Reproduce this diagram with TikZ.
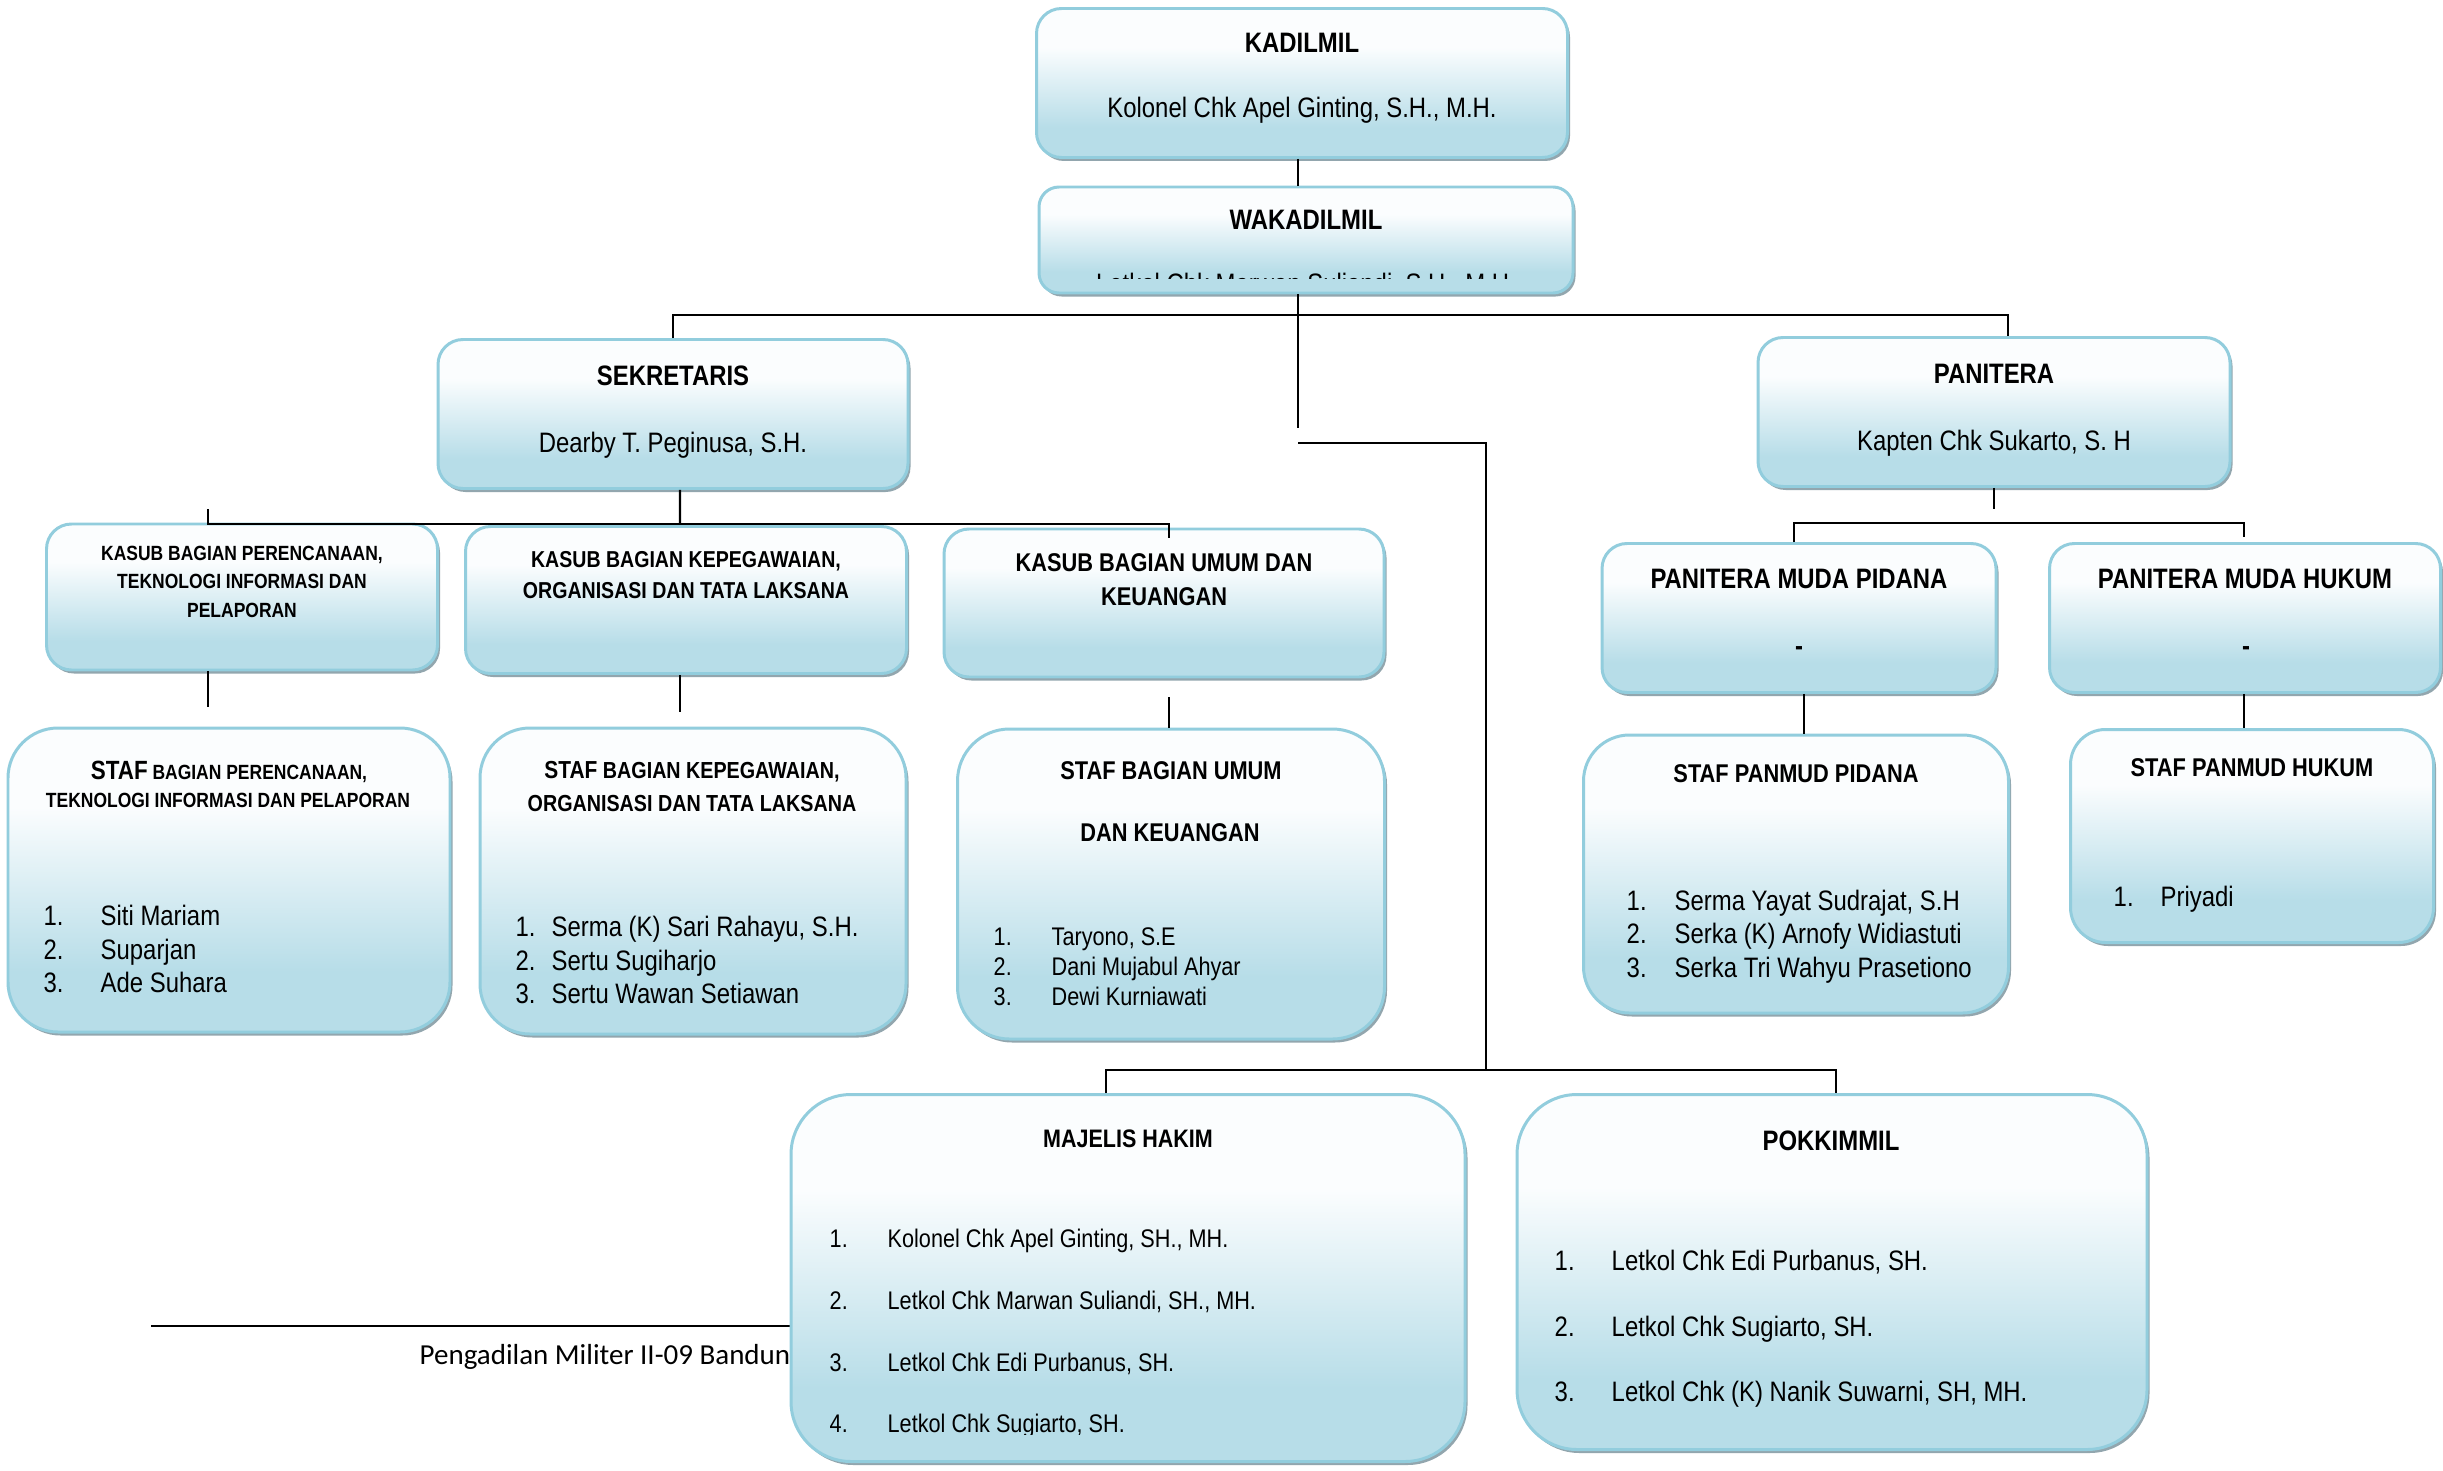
\documentclass[tikz,border=0pt]{standalone}
\usepackage{fontspec}
\setmainfont{Liberation Sans}[FakeStretch=0.85]
\newfontfamily\footfont{Carlito}
\usetikzlibrary{shadows}

\definecolor{unitblue}{RGB}{183,221,232}
\definecolor{unitwhite}{RGB}{251,253,254}
\definecolor{unitline}{RGB}{146,205,221}
\definecolor{unitshadow}{RGB}{146,166,174}

\pgfdeclareverticalshading{unitshade}{100bp}{color(0bp)=(unitblue); color(35bp)=(unitblue); color(62bp)=(unitwhite); color(100bp)=(unitwhite)}

\newcommand{\fsz}[1]{\fontsize{#1}{#1}\selectfont}
\newcommand{\nr}[2]{\makebox[#1][l]{#2}}

\begin{document}
\begin{tikzpicture}[x=0.1mm, y=-0.1mm,
	unit/.style={draw=unitline, line width=0.85pt, shading=unitshade, rounded corners=2.5mm, inner sep=0pt,
		drop shadow={shadow xshift=0.25mm, shadow yshift=-0.35mm, fill=unitshadow, opacity=1}},
	head/.style={font=\bfseries\fsz{8}, anchor=base, inner sep=0pt},
	person/.style={font=\fsz{8}, anchor=base, inner sep=0pt},
	member/.style={font=\fsz{8}, anchor=base west, inner sep=0pt},
	link/.style={draw=black, line width=0.6pt}]

			\fill[white] (0,0) rectangle (2443,1471);
			\useasboundingbox (0,0) rectangle (2443,1471);

			% footer of the page, partly hidden below the boxes
			\coordinate (footleft) at (151,1326);
			\coordinate (footright) at (800,1326);
			\draw[line width=0.6pt] (footleft) -- (footright);
			\node[anchor=base west, inner sep=0pt, font=\footfont\fsz{8.25}] (footer) at (419,1364) {Pengadilan Militer II-09 Bandung};

			% boxes
			\node[unit, minimum width=53.1mm, minimum height=14.9mm] (kadilmil) at (1302,83) {};
			\node[unit, minimum width=53.4mm, minimum height=10.6mm, rounded corners=2mm] (wakadilmil) at (1306,240) {};
			\node[unit, minimum width=47mm, minimum height=14.9mm] (sekretaris) at (673,414) {};
			\node[unit, minimum width=47.2mm, minimum height=14.9mm] (panitera) at (1994,412) {};
			\node[unit, minimum width=39.1mm, minimum height=14.6mm] (k1) at (242,597) {};
			\node[unit, minimum width=44.1mm, minimum height=14.7mm] (k2) at (686,600) {};
			\node[unit, minimum width=44mm, minimum height=14.8mm] (k3) at (1164,603) {};
			\node[unit, minimum width=39.4mm, minimum height=14.9mm] (pmp) at (1799,618) {};
			\node[unit, minimum width=39.1mm, minimum height=14.9mm] (pmh) at (2245,618) {};
			\node[unit, minimum width=44.2mm, minimum height=30.4mm, rounded corners=5mm] (s1) at (229,880) {};
			\node[unit, minimum width=42.6mm, minimum height=30.6mm, rounded corners=5mm] (s2) at (693,881) {};
			\node[unit, minimum width=42.7mm, minimum height=31mm, rounded corners=5.2mm] (s3) at (1171,884) {};
			\node[unit, minimum width=42.5mm, minimum height=27.8mm, rounded corners=4.6mm] (spp) at (1796,874) {};
			\node[unit, minimum width=36.3mm, minimum height=21.3mm, rounded corners=3.5mm] (sph) at (2252,836) {};
			\node[unit, minimum width=67.4mm, minimum height=36.7mm, rounded corners=6mm] (majelis) at (1128,1278) {};
			\node[unit, minimum width=63mm, minimum height=35.5mm, rounded corners=6mm] (pokkimmil) at (1832,1272) {};

			% connectors
			\coordinate (bus) at (1298,315);
			\coordinate (trunkend) at (1298,428);
			\coordinate (branch) at (1298,443);
			\coordinate (lowbus) at (1486,1070);
			\coordinate (kbus) at (680,524);
			\coordinate (kstub) at (208,509);
			\coordinate (kdrop) at (1169,538);
			\coordinate (pbus) at (1794,523);
			\coordinate (pdrop) at (2244,537);

			\draw[link] (bus |- kadilmil.south) -- (bus |- wakadilmil.north);
			\draw[link] (bus |- wakadilmil.south) -- (trunkend);
			\draw[link] (sekretaris.north) |- (bus) -| ([xshift=1.4mm]panitera.north);
			\draw[link] (branch) -| (lowbus);
			\draw[link] ([xshift=-2.2mm]majelis.north) |- (lowbus) -| ([xshift=0.4mm]pokkimmil.north);

			\draw[link] ([xshift=0.7mm]sekretaris.south) -- (kbus);
			\draw[link] (kstub) |- (kbus) -| (kdrop);
			\draw[link, shorten >=2mm] (kstub |- k1.south) -- (kstub |- s1.north);
			\draw[link, shorten >=1.5mm] (kbus |- k2.south) -- (kbus |- s2.north);
			\draw[link, shorten <=1.9mm] (kdrop |- k3.south) -- (kdrop |- s3.north);

			\draw[link, shorten >=1.4mm] (panitera.south) -- (panitera.south |- pbus);
			\draw[link] (pbus |- pmp.north) -- (pbus) -| (pdrop);
			\draw[link] ([xshift=0.5mm]pmp.south) -- ([xshift=0.5mm]pmp.south |- spp.north);
			\draw[link] (pdrop |- pmh.south) -- (pdrop |- sph.north);

			% texts
			\node[head] (kadilmil-t) at (1302,53) {KADILMIL};
			\node[person] (kadilmil-n) at (1302,118) {Kolonel Chk Apel Ginting, S.H., M.H.};
			\node[head] (wakadilmil-t) at (1306,230) {WAKADILMIL};
			\begin{scope}
				\clip (1040,250) rectangle (1570,278);
				\node[person] (wakadilmil-n) at (1306,293) {Letkol Chk Marwan Suliandi, S.H., M.H.};
			\end{scope}
			\node[head] (sekretaris-t) at (673,385) {SEKRETARIS};
			\node[person] (sekretaris-n) at (673,452) {Dearby T. Peginusa, S.H.};
			\node[head] (panitera-t) at (1994,383) {PANITERA};
			\node[person] (panitera-n) at (1994,450) {Kapten Chk Sukarto, S. H};

			\node[head, font=\bfseries\fsz{5.85}] (k1-a) at (242,560) {KASUB BAGIAN PERENCANAAN,};
			\node[head, font=\bfseries\fsz{5.85}] (k1-b) at (242,588) {TEKNOLOGI INFORMASI DAN};
			\node[head, font=\bfseries\fsz{5.85}] (k1-c) at (242,617) {PELAPORAN};
			\node[head, font=\bfseries\fsz{6.55}] (k2-a) at (686,567) {KASUB BAGIAN KEPEGAWAIAN,};
			\node[head, font=\bfseries\fsz{6.55}] (k2-b) at (686,598) {ORGANISASI DAN TATA LAKSANA};
			\node[head, font=\bfseries\fsz{7.3}] (k3-a) at (1164,571) {KASUB BAGIAN UMUM DAN};
			\node[head, font=\bfseries\fsz{7.3}] (k3-b) at (1164,605) {KEUANGAN};

			\node[head] (pmp-t) at (1799,588) {PANITERA MUDA PIDANA};
			\node[head] (pmp-n) at (1799,655) {-};
			\node[head] (pmh-t) at (2245,588) {PANITERA MUDA HUKUM};
			\node[head] (pmh-n) at (2246,655) {-};

			\node[head, font=\bfseries\fsz{5.85}] (s1-a) at (229,779) {{\fsz{7.5}STAF} BAGIAN PERENCANAAN,};
			\node[head, font=\bfseries\fsz{5.85}] (s1-b) at (228,807) {TEKNOLOGI INFORMASI DAN PELAPORAN};
			\node[member] (s1-1) at (43,925) {\nr{5.7mm}{1.}Siti Mariam};
			\node[member] (s1-2) at (43,959) {\nr{5.7mm}{2.}Suparjan};
			\node[member] (s1-3) at (43,992) {\nr{5.7mm}{3.}Ade Suhara};

			\node[head, font=\bfseries\fsz{6.6}] (s2-a) at (692,778) {{\fsz{7}STAF} BAGIAN KEPEGAWAIAN,};
			\node[head, font=\bfseries\fsz{6.6}] (s2-b) at (692,811) {ORGANISASI DAN TATA LAKSANA};
			\node[member] (s2-1) at (515,936) {\nr{3.6mm}{1.}Serma (K) Sari Rahayu, S.H.};
			\node[member] (s2-2) at (515,970) {\nr{3.6mm}{2.}Sertu Sugiharjo};
			\node[member] (s2-3) at (515,1003) {\nr{3.6mm}{3.}Sertu Wawan Setiawan};

			\node[head, font=\bfseries\fsz{7.3}] (s3-a) at (1171,779) {STAF BAGIAN UMUM};
			\node[head, font=\bfseries\fsz{7.3}] (s3-b) at (1170,841) {DAN KEUANGAN};
			\node[member, font=\fsz{7.25}] (s3-1) at (993,945) {\nr{5.8mm}{1.}Taryono, S.E};
			\node[member, font=\fsz{7.25}] (s3-2) at (993,975) {\nr{5.8mm}{2.}Dani Mujabul Ahyar};
			\node[member, font=\fsz{7.25}] (s3-3) at (993,1005) {\nr{5.8mm}{3.}Dewi Kurniawati};

			\node[head, font=\bfseries\fsz{7.3}] (spp-t) at (1796,782) {STAF PANMUD PIDANA};
			\node[member] (spp-1) at (1626,910) {\nr{4.8mm}{1.}Serma Yayat Sudrajat, S.H};
			\node[member] (spp-2) at (1626,943) {\nr{4.8mm}{2.}Serka (K) Arnofy Widiastuti};
			\node[member] (spp-3) at (1626,977) {\nr{4.8mm}{3.}Serka Tri Wahyu Prasetiono};

			\node[head, font=\bfseries\fsz{7.3}] (sph-t) at (2252,776) {STAF PANMUD HUKUM};
			\node[member] (sph-1) at (2113,906) {\nr{4.7mm}{1.}Priyadi};

			\node[head, font=\bfseries\fsz{7.2}] (majelis-t) at (1128,1147) {MAJELIS HAKIM};
			\node[member, font=\fsz{7.25}] (majelis-1) at (829,1247) {\nr{5.8mm}{1.}Kolonel Chk Apel Ginting, SH., MH.};
			\node[member, font=\fsz{7.25}] (majelis-2) at (829,1309) {\nr{5.8mm}{2.}Letkol Chk Marwan Suliandi, SH., MH.};
			\node[member, font=\fsz{7.25}] (majelis-3) at (829,1371) {\nr{5.8mm}{3.}Letkol Chk Edi Purbanus, SH.};
			\begin{scope}
				\clip (800,1390) rectangle (1460,1434);
				\node[member, font=\fsz{7.25}] (majelis-4) at (829,1432) {\nr{5.8mm}{4.}Letkol Chk Sugiarto, SH.};
			\end{scope}

			\node[head] (pokkimmil-t) at (1831,1150) {POKKIMMIL};
			\node[member] (pokkimmil-1) at (1554,1270) {\nr{5.7mm}{1.}Letkol Chk Edi Purbanus, SH.};
			\node[member] (pokkimmil-2) at (1554,1336) {\nr{5.7mm}{2.}Letkol Chk Sugiarto, SH.};
			\node[member] (pokkimmil-3) at (1554,1401) {\nr{5.7mm}{3.}Letkol Chk (K) Nanik Suwarni, SH, MH.};
		\end{tikzpicture}
\end{document}
